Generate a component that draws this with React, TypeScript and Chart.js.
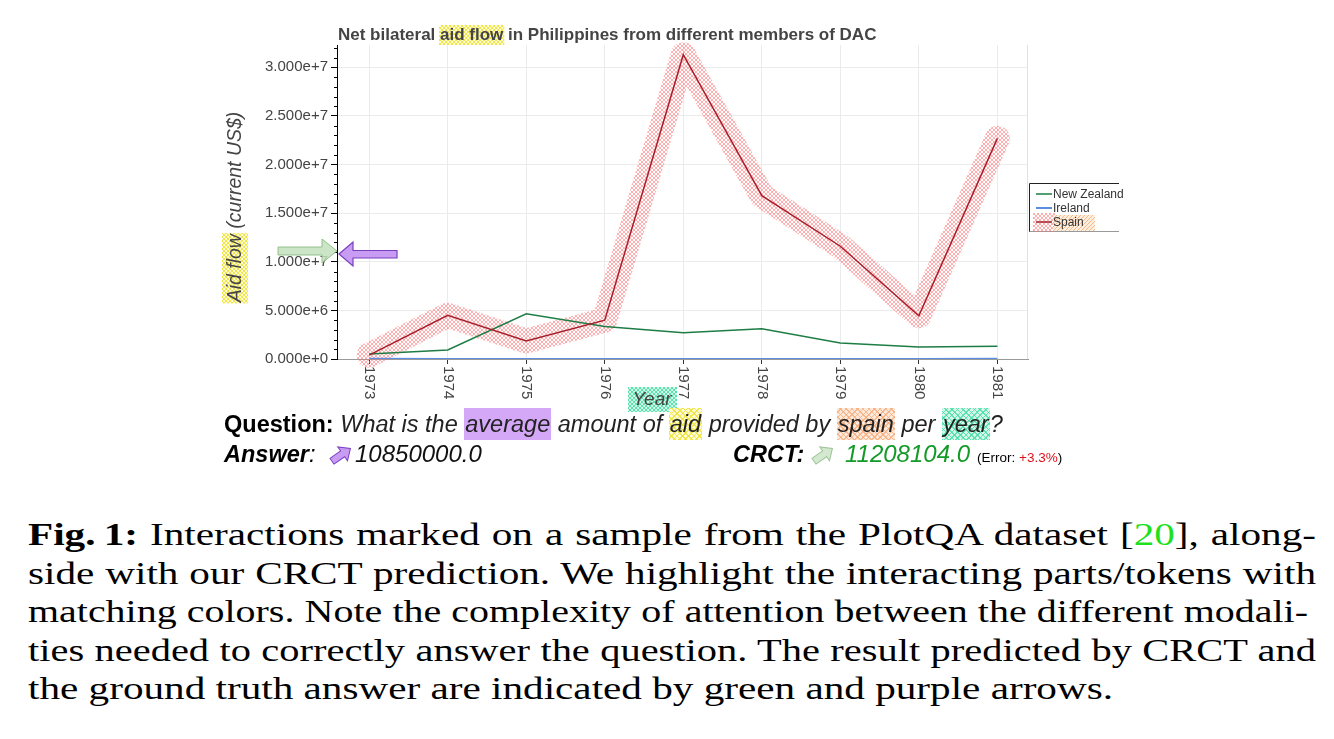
import React, { useEffect, useMemo, useRef } from "react";
import { Chart, registerables } from "chart.js";

Chart.register(...registerables);

// ---------- data ----------
const YEARS = [1973, 1974, 1975, 1976, 1977, 1978, 1979, 1980, 1981];
const YEAR_LABELS = ["1973", "1974", "1975", "1976", "1977", "1978", "1979", "1980", "1981"];
const NEW_ZEALAND = [520000, 930000, 4660000, 3350000, 2700000, 3100000, 1650000, 1230000, 1300000];
const IRELAND = [15000, 12000, 10000, 10000, 12000, 10000, 10000, 12000, 15000];
const SPAIN = [400000, 4500000, 1850000, 4000000, 31300000, 16800000, 11600000, 4450000, 22700000];
const Y_TICKS = [0, 5000000, 10000000, 15000000, 20000000, 25000000, 30000000];
const SERIES_NAMES = ["New Zealand", "Ireland", "Spain"];
const TITLE_PARTS = ["Net bilateral ", "aid flow", " in Philippines from different members of DAC"];
const Y_TITLE_PARTS = ["Aid flow", " (current US$)"];
const X_TITLE = "Year";
const ANSWER = "10850000.0";
const PREDICTION = "11208104.0";
const ERROR_TEXT = "+3.3%";

const SANS = '"Liberation Sans", Arial, Helvetica, sans-serif';
const SERIF = '"Liberation Serif", "Times New Roman", serif';

type Seg = { t: string; b?: boolean; c?: string };
const CAPTION: Seg[][] = [
  [
    { t: "Fig.\u202F1:", b: true },
    { t: " Interactions marked on a sample from the PlotQA dataset [" },
    { t: "20", c: "#1ee01e" },
    { t: "], along-" },
  ],
  [{ t: "side with our CRCT prediction. We highlight the interacting parts/tokens with" }],
  [{ t: "matching colors. Note the complexity of attention between the different modali-" }],
  [{ t: "ties needed to correctly answer the question. The result predicted by CRCT and" }],
  [{ t: "the ground truth answer are indicated by green and purple arrows." }],
];
const CAPTION_RIGHT = [1288, 1288, 1280, 1288];

function hatchPattern(ctx: CanvasRenderingContext2D, color: string, bg: string | null, size: number, cross: boolean) {
  const c = document.createElement("canvas");
  c.width = size;
  c.height = size;
  const g = c.getContext("2d")!;
  if (bg) {
    g.fillStyle = bg;
    g.fillRect(0, 0, size, size);
  }
  g.strokeStyle = color;
  g.lineWidth = 1;
  g.beginPath();
  g.moveTo(-1, size + 1);
  g.lineTo(size + 1, -1);
  g.moveTo(-1, 1);
  g.lineTo(1, -1);
  g.moveTo(size - 1, size + 1);
  g.lineTo(size + 1, size - 1);
  if (cross) {
    g.moveTo(-1, -1);
    g.lineTo(size + 1, size + 1);
    g.moveTo(size - 1, -1);
    g.lineTo(size + 1, 1);
    g.moveTo(-1, size - 1);
    g.lineTo(1, size + 1);
  }
  g.stroke();
  return ctx.createPattern(c, "repeat")!;
}

const cssHatch = (line: string, bg: string) =>
  `repeating-linear-gradient(45deg, ${line} 0 1px, transparent 1px 4px), repeating-linear-gradient(-45deg, ${line} 0 1px, transparent 1px 4px), ${bg}`;

const YELLOW_BG = cssHatch("rgba(235,225,40,0.75)", "#fffbd6");
const ORANGE_BG = cssHatch("rgba(245,170,120,0.75)", "#fde8d9");
const TEAL_BG = cssHatch("rgba(60,220,160,0.75)", "#d5f7ea");
const PURPLE_BG = "#d4a8f6";

function arrowPath(ctx: CanvasRenderingContext2D, pts: number[][]) {
  ctx.beginPath();
  ctx.moveTo(pts[0][0], pts[0][1]);
  for (let i = 1; i < pts.length; i++) ctx.lineTo(pts[i][0], pts[i][1]);
  ctx.closePath();
}

const decorPlugin = {
  id: "decor",
  afterDraw(chart: any) {
    const ctx: CanvasRenderingContext2D = chart.ctx;
    const { left, right, top, bottom } = chart.chartArea;
    const xs = chart.scales.x;
    const ys = chart.scales.y;
    ctx.save();

    // right border of plot
    ctx.strokeStyle = "#e2e2e2";
    ctx.lineWidth = 1;
    ctx.beginPath();
    ctx.moveTo(right - 0.5, top);
    ctx.lineTo(right - 0.5, bottom);
    ctx.stroke();

    // minor y ticks
    const major = Y_TICKS[1] - Y_TICKS[0];
    const minor = major / 5;
    ctx.strokeStyle = "#000";
    ctx.beginPath();
    for (let k = 1; k * minor <= ys.max; k++) {
      if (k % 5 === 0) continue;
      const py = Math.round(ys.getPixelForValue(k * minor)) + 0.5;
      ctx.moveTo(left - 3, py);
      ctx.lineTo(left, py);
    }
    ctx.stroke();

    // x labels rotated clockwise
    ctx.fillStyle = "#444";
    ctx.font = `15px ${SANS}`;
    ctx.textAlign = "left";
    ctx.textBaseline = "middle";
    YEARS.forEach((yr, i) => {
      const px = xs.getPixelForValue(yr);
      ctx.save();
      ctx.translate(px, bottom + 7);
      ctx.rotate(Math.PI / 2);
      ctx.fillText(YEAR_LABELS[i], 0, 0);
      ctx.restore();
    });

    // title
    ctx.font = `bold 17px ${SANS}`;
    const full = TITLE_PARTS.join("");
    const tw = ctx.measureText(full).width;
    const ts = Math.min(1, 540 / tw);
    const hx = 338 + ctx.measureText(TITLE_PARTS[0]).width * ts;
    const hw = ctx.measureText(TITLE_PARTS[1]).width * ts;
    ctx.fillStyle = hatchPattern(ctx, "rgba(235,225,40,0.8)", "#fffbd6", 4, true);
    ctx.fillRect(hx - 1, 25, hw + 2, 20);
    ctx.fillStyle = "#444";
    ctx.textAlign = "left";
    ctx.textBaseline = "alphabetic";
    ctx.fillText(full, 338, 40, 540);

    // y title
    ctx.save();
    ctx.translate(236, 207);
    ctx.rotate(-Math.PI / 2);
    ctx.font = `italic 19.5px ${SANS}`;
    const yFull = Y_TITLE_PARTS.join("");
    const yw = ctx.measureText(yFull).width;
    const yScale = Math.min(1, 198 / yw);
    const yStart = -(yw * yScale) / 2;
    const aw = ctx.measureText(Y_TITLE_PARTS[0]).width * yScale;
    ctx.fillStyle = hatchPattern(ctx, "rgba(235,225,40,0.8)", "#fffbd6", 4, true);
    ctx.fillRect(yStart - 1, -14, aw + 2, 26);
    ctx.fillStyle = "#444";
    ctx.textAlign = "left";
    ctx.textBaseline = "middle";
    ctx.fillText(yFull, yStart, 0, 198);
    ctx.restore();

    // x title
    ctx.fillStyle = hatchPattern(ctx, "rgba(60,220,160,0.8)", "#d5f7ea", 4, true);
    ctx.fillRect(628, 387, 49, 25);
    ctx.font = `italic 19px ${SANS}`;
    ctx.fillStyle = "#444";
    ctx.textAlign = "center";
    ctx.textBaseline = "middle";
    ctx.fillText(X_TITLE, 652, 400);

    // legend
    const lx = 1029.5;
    ctx.strokeStyle = "#222";
    ctx.lineWidth = 1;
    ctx.beginPath();
    ctx.moveTo(1119, 183.5);
    ctx.lineTo(lx, 183.5);
    ctx.lineTo(lx, 232);
    ctx.stroke();
    ctx.strokeStyle = "#999";
    ctx.beginPath();
    ctx.moveTo(lx, 231.5);
    ctx.lineTo(1119, 231.5);
    ctx.stroke();
    const legendColors = ["#1e7d45", "#5b8ee2", "#a51f2b"];
    const rowY = [194, 208, 222];
    ctx.fillStyle = hatchPattern(ctx, "rgba(255,120,120,0.6)", null, 4, true);
    ctx.fillRect(1033, 213, 22, 19);
    ctx.fillStyle = hatchPattern(ctx, "rgba(245,170,120,0.8)", "#fdeede", 4, false);
    ctx.fillRect(1053, 215, 42, 16);
    ctx.font = `12px ${SANS}`;
    ctx.textAlign = "left";
    ctx.textBaseline = "middle";
    SERIES_NAMES.forEach((n, i) => {
      ctx.strokeStyle = legendColors[i];
      ctx.lineWidth = i === 1 ? 2 : 1.5;
      ctx.beginPath();
      ctx.moveTo(1036, rowY[i]);
      ctx.lineTo(1052, rowY[i]);
      ctx.stroke();
      ctx.fillStyle = "#333";
      ctx.fillText(n, 1053, rowY[i] + 0.5);
    });

    // big arrows at the y axis
    ctx.globalAlpha = 0.85;
    arrowPath(ctx, [[278, 247], [322, 247], [322, 239], [337, 251], [322, 263], [322, 255], [278, 255]]);
    ctx.fillStyle = "#c3e1bc";
    ctx.fill();
    ctx.strokeStyle = "#86b97e";
    ctx.lineWidth = 1;
    ctx.stroke();
    ctx.globalAlpha = 1;
    arrowPath(ctx, [[339, 254], [353, 242], [353, 250.5], [397, 250.5], [397, 258], [353, 258], [353, 266]]);
    ctx.fillStyle = "#c99cf3";
    ctx.fill();
    ctx.strokeStyle = "#7a3fc0";
    ctx.lineWidth = 1.2;
    ctx.stroke();

    ctx.restore();
  },
};

function SmallArrow({ fill, stroke, left, top }: { fill: string; stroke: string; left: number; top: number }) {
  return (
    <svg width={26} height={24} style={{ position: "absolute", left, top }}>
      <g transform="translate(13,12) rotate(-35)">
        <polygon points="-11,-3.5 2,-3.5 2,-8.5 11.5,0 2,8.5 2,3.5 -11,3.5" fill={fill} stroke={stroke} strokeWidth={1} />
      </g>
    </svg>
  );
}

const CAP_FONT = 32;

export default function App() {
  const canvasRef = useRef<HTMLCanvasElement | null>(null);

  const capLayout = useMemo(() => {
    const c = document.createElement("canvas").getContext("2d")!;
    const widths = CAPTION.map((segs) =>
      segs.reduce((acc, s) => {
        c.font = `${s.b ? "bold " : ""}${CAP_FONT}px ${SERIF}`;
        return acc + c.measureText(s.t).width;
      }, 0)
    );
    const last = widths.length - 1;
    const g = 1085 / widths[last];
    return widths.map((w, i) => {
      if (i === last) return { scale: g, width: w + 4, justify: false };
      const target = CAPTION_RIGHT[i];
      const s = Math.min(g, (target - 2) / w);
      return { scale: s, width: target / s, justify: true };
    });
  }, []);

  useEffect(() => {
    const canvas = canvasRef.current!;
    const ctx = canvas.getContext("2d")!;
    const pts = (vals: number[]) => YEARS.map((y, i) => ({ x: y, y: vals[i] }));
    const spainBand = hatchPattern(ctx, "rgba(255,110,110,0.55)", null, 4, true);
    const chart = new Chart(canvas, {
      type: "line",
      data: {
        datasets: [
          { label: SERIES_NAMES[0], data: pts(NEW_ZEALAND), borderColor: "#1e7d45", borderWidth: 1.5, pointRadius: 0, order: 1 },
          { label: SERIES_NAMES[1], data: pts(IRELAND), borderColor: "#5b8ee2", borderWidth: 2, pointRadius: 0, order: 0 },
          { label: SERIES_NAMES[2], data: pts(SPAIN), borderColor: "#a51f2b", borderWidth: 1.5, pointRadius: 0, order: 0 },
          {
            label: "Spain highlight",
            data: pts(SPAIN),
            borderColor: spainBand as any,
            borderWidth: 25,
            borderCapStyle: "round",
            borderJoinStyle: "round",
            pointRadius: 0,
            order: 5,
            clip: false as any,
          },
        ],
      },
      options: {
        responsive: false,
        animation: false,
        events: [],
        layout: { padding: { left: 0, right: 306, top: 45, bottom: 0 } },
        plugins: { legend: { display: false }, tooltip: { enabled: false }, title: { display: false } },
        scales: {
          x: {
            type: "linear",
            min: 1972.59,
            max: 1981.39,
            afterBuildTicks: (s: any) => {
              s.ticks = YEARS.map((v) => ({ value: v }));
            },
            afterFit: (s: any) => {
              s.height = 111;
            },
            ticks: {
              color: "rgba(0,0,0,0)",
              autoSkip: false,
              minRotation: 90,
              maxRotation: 90,
              font: { size: 14, family: SANS },
              callback: (v: any) => String(v),
            },
            grid: { color: "#ebebeb", tickColor: "#333", tickLength: 5 },
            border: { color: "#9a9a9a", width: 1 },
          },
          y: {
            type: "linear",
            min: 0,
            max: 32300000,
            afterBuildTicks: (s: any) => {
              s.ticks = Y_TICKS.map((v) => ({ value: v }));
            },
            afterFit: (s: any) => {
              s.width = 337;
            },
            ticks: {
              color: "#444",
              padding: 3,
              font: { size: 15, family: SANS },
              callback: (v: any) => Number(v).toExponential(3),
            },
            grid: { color: "#ebebeb", tickColor: "#000", tickLength: 6 },
            border: { color: "#000", width: 1 },
          },
        },
      },
      plugins: [decorPlugin],
    });
    return () => chart.destroy();
  }, []);

  const hl = (bg: string): React.CSSProperties => ({ background: bg, padding: "3px 1px" });
  const line2: React.CSSProperties = { position: "absolute", top: 442, fontFamily: SANS, fontSize: 24, lineHeight: "24px", whiteSpace: "nowrap" };

  return (
    <div style={{ position: "absolute", left: 0, top: 0, width: 1334, height: 739, background: "#fff", overflow: "hidden" }}>
      <canvas ref={canvasRef} width={1334} height={470} style={{ position: "absolute", left: 0, top: 0, width: 1334, height: 470 }} />

      <div style={{ position: "absolute", left: 224, top: 413, fontFamily: SANS, fontSize: 23.5, lineHeight: "23.5px", whiteSpace: "nowrap", color: "#222" }}>
        <b style={{ color: "#000" }}>Question:</b>{" "}
        <i>
          What is the <span style={hl(PURPLE_BG)}>average</span> amount of <span style={hl(YELLOW_BG)}>aid</span> provided by{" "}
          <span style={hl(ORANGE_BG)}>spain</span> per <span style={hl(TEAL_BG)}>year</span>?
        </i>
      </div>

      <div style={{ ...line2, left: 224, color: "#000", fontSize: 23.5 }}>
        <i>
          <b>Answer</b>:
        </i>
      </div>
      <SmallArrow fill="#c99cf3" stroke="#7a3fc0" left={328} top={443} />
      <div style={{ ...line2, left: 355, color: "#111" }}>
        <i>{ANSWER}</i>
      </div>

      <div style={{ ...line2, left: 733, color: "#000", fontSize: 23.5 }}>
        <i>
          <b>CRCT:</b>
        </i>
      </div>
      <SmallArrow fill="#d3e8cf" stroke="#9cc496" left={810} top={443} />
      <div style={{ ...line2, left: 845, color: "#139a28" }}>
        <i>{PREDICTION}</i>
      </div>
      <div style={{ position: "absolute", left: 977, top: 451, fontFamily: SANS, fontSize: 13.5, lineHeight: "14px", whiteSpace: "nowrap", color: "#000" }}>
        (Error: <span style={{ color: "#e0101a" }}>{ERROR_TEXT}</span>)
      </div>

      {CAPTION.map((segs, i) => {
        const L = capLayout[i];
        return (
          <div
            key={i}
            style={{
              position: "absolute",
              left: 28,
              top: 515 + i * 38.5,
              width: L.width,
              transform: `scaleX(${L.scale})`,
              transformOrigin: "0 0",
              fontFamily: SERIF,
              fontSize: CAP_FONT,
              lineHeight: "38.5px",
              color: "#000",
              textAlign: L.justify ? "justify" : "left",
              textAlignLast: L.justify ? "justify" : "left",
            }}
          >
            {segs.map((s, j) =>
              s.b ? (
                <b key={j}>{s.t}</b>
              ) : s.c ? (
                <span key={j} style={{ color: s.c }}>
                  {s.t}
                </span>
              ) : (
                <React.Fragment key={j}>{s.t}</React.Fragment>
              )
            )}
          </div>
        );
      })}
    </div>
  );
}
